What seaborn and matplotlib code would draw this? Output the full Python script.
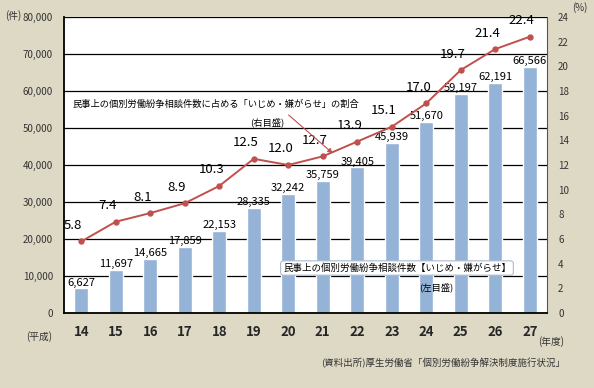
import matplotlib
matplotlib.use("Agg")
import matplotlib.pyplot as plt
import seaborn as sns
import pandas as pd
from matplotlib.ticker import FuncFormatter, MultipleLocator

# 年度 (平成) / 件数 / 割合
years = ["14", "15", "16", "17", "18", "19", "20", "21", "22", "23", "24", "25", "26", "27"]
counts = [6627, 11697, 14665, 17859, 22153, 28335, 32242, 35759, 39405, 45939, 51670, 59197, 62191, 66566]
ratios = [5.8, 7.4, 8.1, 8.9, 10.3, 12.5, 12.0, 12.7, 13.9, 15.1, 17.0, 19.7, 21.4, 22.4]

df = pd.DataFrame({"year": years, "count": counts, "ratio": ratios})

BG = "#ddd9c4"
BAR = "#95b3d7"
LINE = "#c0504d"

sns.set_theme(style="white")
plt.rcParams["font.family"] = ["Noto Sans CJK JP", "DejaVu Sans"]

fig = plt.figure(figsize=(5.94, 3.88), dpi=100, facecolor=BG)
ax = fig.add_axes([64 / 594, 1 - 313 / 388, (547 - 64) / 594, (313 - 17) / 388])
ax.set_facecolor("white")

sns.barplot(data=df, x="year", y="count", color=BAR, width=0.4, saturation=1, ax=ax, zorder=2)
ax.set_ylim(0, 80000)
ax.set_xlim(-0.5, len(years) - 0.5)
ax.yaxis.set_major_locator(MultipleLocator(10000))
ax.yaxis.set_major_formatter(FuncFormatter(lambda v, p: f"{int(v):,}"))
ax.grid(axis="y", color="black", linewidth=0.9, zorder=0)
ax.set_axisbelow(True)
ax.set_xlabel("")
ax.set_ylabel("")

for c in ax.containers:
    ax.bar_label(c, labels=[f"{v:,}" for v in counts], padding=0.5, fontsize=8, color="black")

# x ticks: labels at bars, small inner tick marks between them
ax.tick_params(axis="x", which="major", length=0, pad=9, labelsize=9.5)
for lab in ax.get_xticklabels():
    lab.set_fontweight("bold")
ax.set_xticks([i + 0.5 for i in range(len(years) - 1)], minor=True)
ax.tick_params(axis="x", which="minor", direction="in", length=4, width=0.9, color="black")
ax.tick_params(axis="y", length=0, pad=8, labelsize=7, labelcolor="#333333")

for s in ["left", "bottom"]:
    ax.spines[s].set_color("black")
    ax.spines[s].set_linewidth(1.3)
ax.spines["top"].set_visible(False)
ax.spines["right"].set_color("#555555")
ax.spines["right"].set_linewidth(0.8)

ax2 = ax.twinx()
sns.pointplot(data=df, x="year", y="ratio", color=LINE, markers="o", markersize=3.5,
              linewidth=1.4, ax=ax2)
ax2.set_ylim(0, 24)
ax2.set_xlim(-0.5, len(years) - 0.5)
ax2.yaxis.set_major_locator(MultipleLocator(2))
ax2.tick_params(axis="y", length=0, pad=8, labelsize=7, labelcolor="#333333")
ax2.set_ylabel("")
ax2.set_xlabel("")
for s in ax2.spines.values():
    s.set_visible(False)

for i, r in enumerate(ratios):
    ax2.annotate(f"{r:.1f}", (i, r), xytext=(-8, 16), textcoords="offset pixels",
                 ha="center", va="center", fontsize=9.5, color="black")

# annotations
ax2.annotate("", xy=(7.35, 12.8), xytext=(5.95, 16.2),
             arrowprops=dict(arrowstyle="-|>", color=LINE, lw=0.8, mutation_scale=7))
fig.text(216 / 594, 1 - 104 / 388, "民事上の個別労働紛争相談件数に占める「いじめ・嫌がらせ」の割合",
         ha="center", va="center", fontsize=6.7, color="black")
fig.text(267 / 594, 1 - 122 / 388, "(右目盛)", ha="center", va="center", fontsize=6.7, color="black")

fig.text(397 / 594, 1 - 268 / 388, "民事上の個別労働紛争相談件数【いじめ・嫌がらせ】",
         ha="center", va="center", fontsize=6.8, color="black",
         bbox=dict(boxstyle="round,pad=0.25,rounding_size=0.3", fc="white", ec="#aabbd0", lw=0.8))
fig.text(436 / 594, 1 - 287 / 388, "(左目盛)", ha="center", va="center", fontsize=6.7, color="black")

fig.text(13 / 594, 1 - 16 / 388, "(件)", ha="center", va="center", fontsize=7, color="#333333")
fig.text(580 / 594, 1 - 8 / 388, "(%)", ha="center", va="center", fontsize=7, color="#333333")
fig.text(39 / 594, 1 - 337 / 388, "(平成)", ha="center", va="center", fontsize=7, color="#333333")
fig.text(551 / 594, 1 - 342 / 388, "(年度)", ha="center", va="center", fontsize=7, color="#333333")
fig.text(443 / 594, 1 - 363 / 388, "(資料出所)厚生労働省「個別労働紛争解決制度施行状況」",
         ha="center", va="center", fontsize=6.8, color="#333333")

fig.savefig("out.png", dpi=100, facecolor=BG)
